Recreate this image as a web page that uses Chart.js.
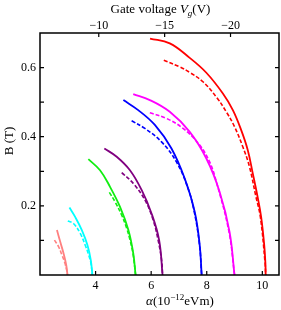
<!DOCTYPE html>
<html>
<head>
<meta charset="utf-8">
<script src="https://cdn.jsdelivr.net/npm/chart.js@4.4.0/dist/chart.umd.min.js"></script>
<style>
  html, body { margin: 0; padding: 0; background: #fff; }
</style>
</head>
<body>
<canvas id="chart" width="281" height="310"></canvas>
<script>
//// Data: [alpha (1e-12 eVm), B (T)]
const salmonSolid = [[2.61, 0.130], [2.728, 0.096], [2.846, 0.063], [2.943, 0.029], [2.99, 0]];
const salmonDash = [[2.52, 0.101], [2.667, 0.082], [2.789, 0.058], [2.89, 0.036], [2.96, 0.014], [2.99, 0]];
const cyanSolid = [[3.06, 0.195], [3.265, 0.168], [3.505, 0.130], [3.706, 0.087], [3.828, 0.043], [3.885, 0]];
const cyanDash = [[3.00, 0.156], [3.204, 0.149], [3.444, 0.121], [3.624, 0.087], [3.76, 0.056], [3.83, 0.035], [3.885, 0]];
const greenSolid = [[3.74, 0.335], [4.16, 0.303], [4.52, 0.255], [4.88, 0.197], [5.18, 0.130], [5.355, 0.063], [5.44, 0]];
const greenDash = [[4.495, 0.239], [4.70, 0.212], [4.94, 0.173], [5.12, 0.135], [5.24, 0.101], [5.35, 0.060], [5.44, 0]];
const purpleSolid = [[4.315, 0.366], [4.76, 0.342], [5.237, 0.303], [5.656, 0.246], [6.014, 0.178], [6.287, 0.101], [6.41, 0]];
const purpleDash = [[4.94, 0.296], [5.355, 0.265], [5.774, 0.217], [6.072, 0.159], [6.25, 0.101], [6.38, 0.040], [6.41, 0]];
const blueSolid = [[5.0, 0.506], [5.534, 0.477], [6.133, 0.434], [6.731, 0.366], [7.208, 0.279], [7.566, 0.183], [7.746, 0.087], [7.817, 0]];
const blueDash = [[5.297, 0.446], [5.774, 0.424], [6.373, 0.385], [6.91, 0.327], [7.326, 0.251], [7.55, 0.183], [7.74, 0.087], [7.817, 0]];
const magentaSolid = [[5.355, 0.523], [5.953, 0.506], [6.67, 0.472], [7.387, 0.414], [7.986, 0.337], [8.462, 0.241], [8.821, 0.125], [9.0, 0]];
const magentaDash = [[5.953, 0.469], [6.552, 0.453], [7.147, 0.424], [7.746, 0.376], [8.104, 0.327], [8.344, 0.270], [8.80, 0.125], [9.0, 0]];
const redSolid = [[5.96, 0.684], [6.67, 0.670], [7.387, 0.628], [7.986, 0.585], [8.581, 0.525], [8.94, 0.477], [9.24, 0.419], [9.477, 0.361], [9.656, 0.294], [9.82, 0.23], [9.957, 0.168], [10.07, 0.085], [10.111, 0.034], [10.12, 0]];
const redDash = [[6.455, 0.621], [7.029, 0.602], [7.387, 0.586], [7.864, 0.559], [8.344, 0.515], [8.703, 0.472], [9.0, 0.429], [9.297, 0.371], [9.538, 0.313], [9.76, 0.23], [9.93, 0.168], [10.10, 0.034], [10.12, 0]];

// Axis ticks and ranges
const alphaTicks = [4, 6, 8, 10];
const bTicks = [0.2, 0.4, 0.6];
const bMinorTicks = [0.1, 0.2, 0.3, 0.4, 0.5, 0.6];
const gateTicks = [-10, -15, -20];
const alphaRange = [2, 10.6];
const bRange = [0, 0.7];
const gateRange = [-23.68, -5.54];

const curves = [
    { pts: salmonSolid, color: '#ff8080', dash: false },
    { pts: salmonDash, color: '#ff8080', dash: true },
    { pts: cyanSolid, color: '#00ffff', dash: false },
    { pts: cyanDash, color: '#00ffff', dash: true },
    { pts: greenSolid, color: '#11ee11', dash: false },
    { pts: greenDash, color: '#11ee11', dash: true },
    { pts: purpleSolid, color: '#800080', dash: false },
    { pts: purpleDash, color: '#800080', dash: true },
    { pts: blueSolid, color: '#0000ff', dash: false },
    { pts: blueDash, color: '#0000ff', dash: true },
    { pts: magentaSolid, color: '#ff00ff', dash: false },
    { pts: magentaDash, color: '#ff00ff', dash: true },
    { pts: redSolid, color: '#ff0000', dash: false },
    { pts: redDash, color: '#ff0000', dash: true }
];

const FONT = 'Liberation Serif';

// draw a run of text pieces centred on cx
function drawRich(ctx, pieces, cx, baseY) {
    let total = 0;
    pieces.forEach(p => { ctx.font = p.font; total += ctx.measureText(p.text).width; });
    let x = cx - total / 2;
    pieces.forEach(p => {
        ctx.font = p.font;
        ctx.fillText(p.text, x, baseY + (p.dy || 0));
        x += ctx.measureText(p.text).width;
    });
}

const framePlugin = {
    id: 'frame',
    afterDraw(chart) {
        const { ctx, chartArea: a, scales } = chart;
        ctx.save();
        ctx.strokeStyle = '#000';
        ctx.lineWidth = 1.5;
        ctx.strokeRect(a.left, a.top, a.right - a.left, a.bottom - a.top);

        // inward tick marks
        ctx.lineWidth = 1.2;
        ctx.beginPath();
        bMinorTicks.forEach(v => {
            const py = scales.y.getPixelForValue(v);
            ctx.moveTo(a.left, py); ctx.lineTo(a.left + 4, py);
            ctx.moveTo(a.right, py); ctx.lineTo(a.right - 4, py);
        });
        alphaTicks.forEach(v => {
            const px = scales.x.getPixelForValue(v);
            ctx.moveTo(px, a.bottom); ctx.lineTo(px, a.bottom - 4);
        });
        gateTicks.forEach(v => {
            const px = scales.x2.getPixelForValue(v);
            ctx.moveTo(px, a.top); ctx.lineTo(px, a.top + 4);
        });
        ctx.stroke();

        // tick labels
        ctx.fillStyle = '#000';
        ctx.font = '12px "' + FONT + '"';
        ctx.textBaseline = 'middle';
        ctx.textAlign = 'right';
        bTicks.forEach(v => ctx.fillText(v.toFixed(1), a.left - 4, scales.y.getPixelForValue(v)));
        ctx.textAlign = 'center';
        alphaTicks.forEach(v => ctx.fillText(String(v), scales.x.getPixelForValue(v), a.bottom + 10.5));
        gateTicks.forEach(v => ctx.fillText('\u2212' + Math.abs(v), scales.x2.getPixelForValue(v), a.top - 7));

        // axis titles
        ctx.textBaseline = 'alphabetic';
        ctx.textAlign = 'left';
        const f = '13px "' + FONT + '"';
        const fi = 'italic 13px "' + FONT + '"';
        const fs = '9px "' + FONT + '"';
        const fsi = 'italic 9px "' + FONT + '"';
        drawRich(ctx, [
            { text: 'Gate voltage ', font: f },
            { text: 'V', font: fi },
            { text: 'g', font: fsi, dy: 2.5 },
            { text: '(V)', font: f }
        ], 160.5, 13);
        drawRich(ctx, [
            { text: '\u03b1', font: fi },
            { text: '(10', font: f },
            { text: '\u221212', font: fs, dy: -5 },
            { text: 'eVm)', font: f }
        ], 180, 305);

        ctx.translate(13, 141);
        ctx.rotate(-Math.PI / 2);
        ctx.textAlign = 'center';
        ctx.font = f;
        ctx.fillText('B (T)', 0, 0);
        ctx.restore();
    }
};

window.onload = () => {
    const canvas = document.getElementById('chart');

    const datasets = curves.map(c => ({
        data: c.pts.map(p => ({ x: p[0], y: p[1] })),
        borderColor: c.color,
        backgroundColor: c.color,
        borderWidth: c.dash ? 1.6 : 1.8,
        borderDash: c.dash ? [4, 2] : [],
        showLine: true,
        pointRadius: 0,
        fill: false,
        tension: 0.4,
        xAxisID: 'x',
        yAxisID: 'y'
    }));

    const noGrid = { display: false, drawTicks: false };
    const noTicks = { display: false };

    new Chart(canvas, {
        type: 'scatter',
        data: { datasets: datasets },
        options: {
            responsive: false,
            animation: false,
            layout: { padding: { left: 0, right: 2, top: 0, bottom: 0 } },
            plugins: { legend: { display: false }, tooltip: { enabled: false } },
            scales: {
                x: {
                    type: 'linear',
                    position: 'bottom',
                    min: alphaRange[0],
                    max: alphaRange[1],
                    grid: noGrid,
                    border: { display: false },
                    ticks: noTicks,
                    afterFit: s => { s.height = 35; }
                },
                x2: {
                    type: 'linear',
                    position: 'top',
                    reverse: true,
                    min: gateRange[0],
                    max: gateRange[1],
                    grid: noGrid,
                    border: { display: false },
                    ticks: noTicks,
                    afterFit: s => { s.height = 33; }
                },
                y: {
                    type: 'linear',
                    min: bRange[0],
                    max: bRange[1],
                    grid: noGrid,
                    border: { display: false },
                    ticks: noTicks,
                    afterFit: s => { s.width = 40; }
                }
            }
        },
        plugins: [framePlugin]
    });
};
</script>
</body>
</html>
